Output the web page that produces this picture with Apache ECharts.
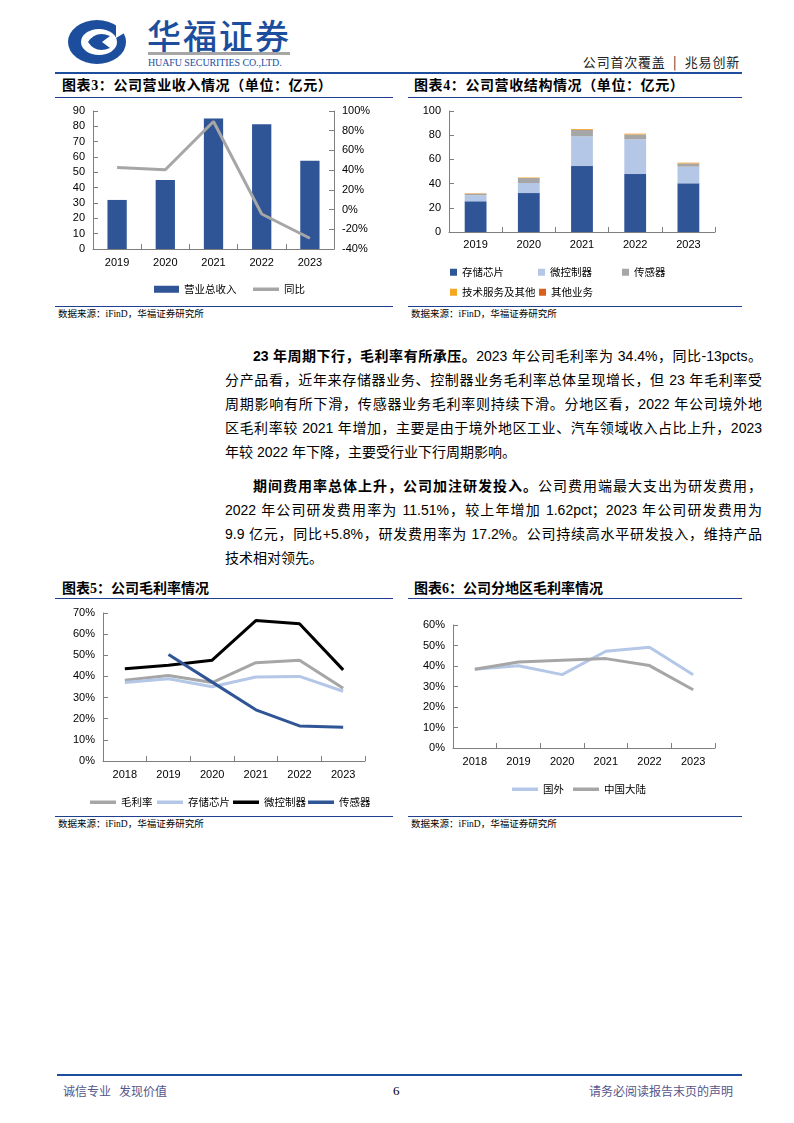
<!DOCTYPE html>
<html><head><meta charset="utf-8">
<script src="https://cdn.jsdelivr.net/npm/echarts@6/dist/echarts.min.js"></script>
<style>
html,body{margin:0;padding:0;background:#fff;}
body{width:794px;height:1123px;position:relative;overflow:hidden;font-family:"Liberation Sans","Noto Sans CJK SC",sans-serif;color:#000;}
.abs{position:absolute;}
.hline{position:absolute;height:0;border-top:1px solid #1f3f8f;}
.title{position:absolute;font-size:14px;font-weight:bold;font-family:"Liberation Serif","Noto Sans CJK SC",serif;white-space:nowrap;line-height:16px;}
.src{position:absolute;font-size:9.5px;font-family:"Liberation Serif","Noto Sans CJK SC",serif;white-space:nowrap;color:#000;line-height:12px;}
.chart{position:absolute;}
.para{position:absolute;left:225px;width:537px;font-size:14px;line-height:24px;font-family:"Liberation Sans","Noto Sans CJK SC",sans-serif;}
.ln{text-align:justify;text-align-last:justify;height:24px;overflow:hidden;}
.ln.last{text-align-last:left;}
.ind{padding-left:28px;}
b{font-weight:bold;}
</style></head>
<body>
<!-- header -->
<svg class="abs" style="left:66px;top:18px" width="64" height="48" viewBox="0 0 64 48">
  <ellipse cx="31" cy="24" rx="29" ry="22" fill="#1d4e9e"/>
  <ellipse cx="33" cy="24" rx="18" ry="13" fill="#fff"/>
  <path d="M50 6 L60 14 L50 20 Z" fill="#fff"/>
  <path d="M22 24 Q30 12 44 18 L36 24 L44 30 Q30 36 22 24 Z" fill="#1d4e9e"/>
</svg>
<div class="abs" style="left:147px;top:15px;font-size:34px;line-height:40px;color:#1d4e9e;font-family:'Noto Sans CJK SC';font-weight:500;letter-spacing:2px;white-space:nowrap">华福证券</div>
<div class="abs" style="left:148px;top:52px;width:142px;height:3px;background:#a6a6a6"></div>
<div class="abs" style="left:148px;top:57px;font-size:10px;line-height:12px;color:#1d4e9e;font-family:'Liberation Serif';white-space:nowrap;letter-spacing:-0.1px">HUAFU SECURITIES CO.,LTD.</div>
<div class="abs" style="right:54px;top:53px;font-size:13px;line-height:18px;color:#222;font-family:'Noto Sans CJK SC';white-space:nowrap;letter-spacing:0.8px">公司首次覆盖 &nbsp;|&nbsp; 兆易创新</div>
<div class="abs" style="left:55px;top:72px;width:687px;height:2px;background:#1d4e9e"></div>

<!-- top titles -->
<div class="title" style="left:62px;top:78px;letter-spacing:0.6px">图表3：公司营业收入情况（单位：亿元）</div>
<div class="title" style="left:414px;top:78px;letter-spacing:0.6px">图表4：公司营收结构情况（单位：亿元）</div>
<div class="hline" style="left:55px;top:97px;width:338px"></div>
<div class="hline" style="left:408px;top:97px;width:334px"></div>

<div id="c3" class="chart" style="left:55px;top:100px;width:340px;height:200px"></div>
<div id="c4" class="chart" style="left:405px;top:100px;width:340px;height:200px"></div>

<div class="hline" style="left:55px;top:306px;width:338px"></div>
<div class="hline" style="left:408px;top:306px;width:334px"></div>
<div class="src" style="left:58px;top:308px">数据来源：iFinD，华福证券研究所</div>
<div class="src" style="left:411px;top:308px">数据来源：iFinD，华福证券研究所</div>

<!-- text -->
<div class="para" style="top:344px">
<div class="ln ind"><b>23 年周期下行，毛利率有所承压。</b>2023 年公司毛利率为 34.4%，同比-13pcts。</div>
<div class="ln">分产品看，近年来存储器业务、控制器业务毛利率总体呈现增长，但 23 年毛利率受</div>
<div class="ln">周期影响有所下滑，传感器业务毛利率则持续下滑。分地区看，2022 年公司境外地</div>
<div class="ln">区毛利率较 2021 年增加，主要是由于境外地区工业、汽车领域收入占比上升，2023</div>
<div class="ln last">年较 2022 年下降，主要受行业下行周期影响。</div>
</div>
<div class="para" style="top:474px">
<div class="ln ind"><b>期间费用率总体上升，公司加注研发投入。</b>公司费用端最大支出为研发费用，</div>
<div class="ln">2022 年公司研发费用率为 11.51%，较上年增加 1.62pct；2023 年公司研发费用为</div>
<div class="ln">9.9 亿元，同比+5.8%，研发费用率为 17.2%。公司持续高水平研发投入，维持产品</div>
<div class="ln last">技术相对领先。</div>
</div>

<!-- bottom titles -->
<div class="title" style="left:62px;top:581px">图表5：公司毛利率情况</div>
<div class="title" style="left:414px;top:581px">图表6：公司分地区毛利率情况</div>
<div class="hline" style="left:55px;top:598px;width:338px"></div>
<div class="hline" style="left:408px;top:598px;width:334px"></div>

<div id="c5" class="chart" style="left:55px;top:600px;width:340px;height:212px"></div>
<div id="c6" class="chart" style="left:405px;top:600px;width:340px;height:212px"></div>

<div class="hline" style="left:55px;top:816px;width:338px"></div>
<div class="hline" style="left:408px;top:816px;width:334px"></div>
<div class="src" style="left:58px;top:818px">数据来源：iFinD，华福证券研究所</div>
<div class="src" style="left:411px;top:818px">数据来源：iFinD，华福证券研究所</div>

<!-- footer -->
<div class="abs" style="left:57px;top:1074px;width:685px;height:2px;background:#1d4e9e"></div>
<div class="abs" style="left:63px;top:1083px;font-size:12px;line-height:16px;color:#55558a;font-family:'Noto Sans CJK SC';white-space:nowrap">诚信专业&nbsp;&nbsp;&nbsp;发现价值</div>
<div class="abs" style="left:393px;top:1083px;font-size:13px;line-height:16px;color:#000;font-family:'Liberation Serif'">6</div>
<div class="abs" style="right:61px;top:1083px;font-size:12px;line-height:16px;color:#55558a;font-family:'Noto Sans CJK SC';white-space:nowrap">请务必阅读报告末页的声明</div>

<script>
// ---- data ----
const years5 = ['2019','2020','2021','2022','2023'];
const years6 = ['2018','2019','2020','2021','2022','2023'];

// chart 3: revenue (亿元) and yoy (%)
const revenue = [32.0, 45.0, 85.1, 81.3, 57.6];
const revenueYoy = [42.6, 40.4, 89.3, -4.5, -29.1];

// chart 4: revenue structure (亿元)
const segStorage = [25.4, 32.2, 54.5, 47.9, 40.2];
const segMCU = [5.0, 8.3, 24.6, 28.7, 13.8];
const segSensor = [1.3, 4.1, 5.2, 4.0, 2.7];
const segTech = [0.3, 0.4, 0.7, 0.6, 0.5];
const segOther = [0.05, 0.05, 0.1, 0.1, 0.1];

// chart 5: gross margin (%)
const gmTotal = [38.2, 40.4, 37.1, 46.5, 47.7, 34.4];
const gmStorage = [37.1, 38.9, 35.1, 39.7, 40.0, 33.0];
const gmMCU = [43.6, 45.3, 47.7, 66.4, 64.9, 43.1];
const gmSensor = [null, 50.4, 37.3, 24.2, 16.6, 16.0];

// chart 6: gross margin by region (%)
const gmOverseas = [38.4, 40.1, 35.8, 47.2, 49.1, 35.7];
const gmMainland = [38.4, 42.0, 42.8, 43.6, 40.2, 28.4];

// ---- styles ----
const AX = '#7f7f7f';
const lblStyle = {fontFamily:'Liberation Sans', fontSize:11, color:'#000'};
const legText = {fontFamily:'Noto Sans CJK SC', fontSize:10.5, color:'#000'};
function xCat(data, gap){
  return {type:'category', data:data, boundaryGap:true,
    axisLine:{lineStyle:{color:AX,width:1}},
    axisTick:{show:true, inside:true, length:5, lineStyle:{color:AX}},
    axisLabel:Object.assign({margin:gap},lblStyle), splitLine:{show:false}};
}
function yVal(min,max,interval,fmt,pos){
  return {type:'value', min:min, max:max, interval:interval, position:pos||'left',
    axisLine:{show:true, lineStyle:{color:AX,width:1}},
    axisTick:{show:true, inside:true, length:5, lineStyle:{color:AX}},
    axisLabel:Object.assign({margin:8, formatter:fmt||'{value}'},lblStyle),
    splitLine:{show:false}};
}
const C_DARK = '#2f5597', C_LIGHT = '#b4c7e7', C_GRAY = '#a6a6a6';
// legend helpers: one legend per item, placed exactly
const legSq = (name,left,top)=>({data:[{name:name,icon:'rect'}], left:left, top:top, itemWidth:7, itemHeight:7, textStyle:legText});
const legBar = (name,left,top)=>({data:[{name:name,icon:'rect'}], left:left, top:top, itemWidth:25, itemHeight:7, textStyle:legText});
const legLine = (name,left,top)=>({data:[{name:name,icon:'rect'}], left:left, top:top, itemWidth:26, itemHeight:3.5, textStyle:legText});

// chart 3
const c3 = echarts.init(document.getElementById('c3'));
c3.setOption({
  animation:false,
  grid:{left:38, top:11, width:241, height:138},
  xAxis: xCat(years5, 8),
  yAxis: [yVal(0,90,10), yVal(-40,100,20,'{value}%','right')],
  legend:[legBar('营业总收入',94,179), legLine('同比',193,179)],
  series:[
    {name:'营业总收入', type:'bar', data:revenue, barWidth:'40%', itemStyle:{color:C_DARK}},
    {name:'同比', type:'line', yAxisIndex:1, data:revenueYoy, symbol:'none', lineStyle:{color:C_GRAY,width:3}, itemStyle:{color:C_GRAY}}
  ]
});

// chart 4
const c4 = echarts.init(document.getElementById('c4'));
c4.setOption({
  animation:false,
  grid:{left:44, top:11, width:266, height:121},
  xAxis: xCat(years5, 7),
  yAxis: yVal(0,100,20),
  legend:[legSq('存储芯片',40,162), legSq('微控制器',128,162), legSq('传感器',212,162),
          legSq('技术服务及其他',40,182), legSq('其他业务',129,182)],
  series:[
    {name:'存储芯片', type:'bar', stack:'t', data:segStorage, barWidth:'41%', itemStyle:{color:C_DARK}},
    {name:'微控制器', type:'bar', stack:'t', data:segMCU, itemStyle:{color:C_LIGHT}},
    {name:'传感器', type:'bar', stack:'t', data:segSensor, itemStyle:{color:C_GRAY}},
    {name:'技术服务及其他', type:'bar', stack:'t', data:segTech, itemStyle:{color:'#f5a623'}},
    {name:'其他业务', type:'bar', stack:'t', data:segOther, itemStyle:{color:'#d9601c'}}
  ]
});

// chart 5
const c5 = echarts.init(document.getElementById('c5'));
const ln = (name,data,color)=>({name:name, type:'line', data:data, symbol:'none', connectNulls:false,
  lineStyle:{color:color,width:3}, itemStyle:{color:color}});
c5.setOption({
  animation:false,
  grid:{left:48, top:13, width:262, height:148},
  xAxis: xCat(years6, 8),
  yAxis: yVal(0,70,10,'{value}%'),
  legend:[legLine('毛利率',30,192), legLine('存储芯片',97,192), legLine('微控制器',173,192), legLine('传感器',248,192)],
  series:[ln('毛利率',gmTotal,C_GRAY), ln('存储芯片',gmStorage,C_LIGHT), ln('微控制器',gmMCU,'#000000'), ln('传感器',gmSensor,C_DARK)]
});

// chart 6
const c6 = echarts.init(document.getElementById('c6'));
c6.setOption({
  animation:false,
  grid:{left:48, top:25, width:262, height:123},
  xAxis: xCat(years6, 8),
  yAxis: yVal(0,60,10,'{value}%'),
  legend:[legLine('国外',102,179), legLine('中国大陆',163,179)],
  series:[ln('国外',gmOverseas,C_LIGHT), ln('中国大陆',gmMainland,C_GRAY)]
});
</script>
</body></html>
